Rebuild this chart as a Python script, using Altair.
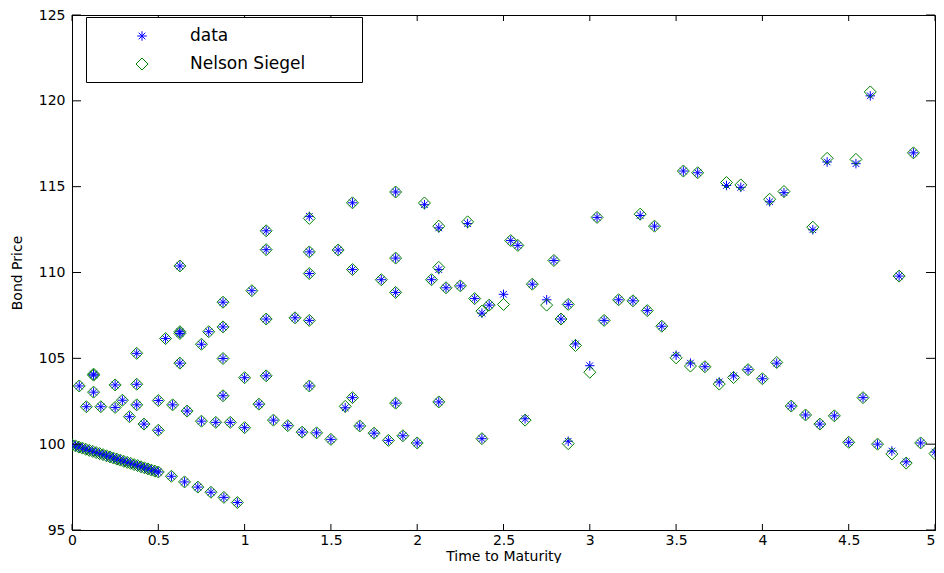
import altair as alt
import pandas as pd

# ---------------- data ----------------
t = [0.00, 0.02, 0.04, 0.06, 0.08, 0.10, 0.12, 0.14, 0.16, 0.18,
     0.20, 0.22, 0.24, 0.26, 0.28, 0.30, 0.32, 0.34, 0.36, 0.38,
     0.40, 0.42, 0.44, 0.46, 0.48,
     0.042, 0.083, 0.125, 0.125, 0.125, 0.167, 0.25, 0.25, 0.292, 0.333,
     0.375, 0.375, 0.375, 0.417, 0.5, 0.5, 0.5, 0.542, 0.576, 0.583,
     0.625, 0.625, 0.625, 0.625, 0.652, 0.667, 0.729, 0.75, 0.75, 0.792,
     0.805, 0.833, 0.875, 0.875, 0.875, 0.875, 0.880, 0.917, 0.958, 1.0,
     1.0, 1.042, 1.083, 1.125, 1.125, 1.125, 1.125, 1.167, 1.25, 1.292,
     1.333, 1.375, 1.375, 1.375, 1.375, 1.375, 1.417, 1.5, 1.542, 1.583,
     1.625, 1.625, 1.625, 1.667, 1.75, 1.792, 1.833, 1.875, 1.875, 1.875,
     1.875, 1.917, 2.0, 2.042, 2.083, 2.125, 2.125, 2.125, 2.167, 2.25,
     2.292, 2.333, 2.375, 2.375, 2.417, 2.5, 2.542, 2.583, 2.625, 2.667,
     2.75, 2.792, 2.833, 2.875, 2.875, 2.917, 3.0, 3.042, 3.083, 3.167,
     3.25, 3.292, 3.333, 3.375, 3.417, 3.5, 3.542, 3.583, 3.625, 3.667,
     3.75, 3.792, 3.833, 3.875, 3.917, 4.0, 4.042, 4.083, 4.125, 4.167,
     4.25, 4.292, 4.333, 4.375, 4.417, 4.5, 4.542, 4.583, 4.625, 4.667,
     4.75, 4.792, 4.833, 4.875, 4.917, 5.0]

price = [99.96, 99.90, 99.83, 99.77, 99.70, 99.64, 99.58, 99.51, 99.45, 99.39,
         99.32, 99.26, 99.19, 99.13, 99.07, 99.00, 98.94, 98.88, 98.81, 98.75,
         98.68, 98.62, 98.56, 98.49, 98.43,
         103.39, 102.18, 104.08, 104.02, 103.03, 102.18, 103.45, 102.14, 102.56, 101.60,
         105.29, 103.49, 102.29, 101.17, 98.38, 102.54, 100.81, 106.15, 98.13, 102.29,
         110.38, 106.55, 106.45, 104.72, 97.80, 101.93, 97.50, 105.82, 101.34, 106.55,
         97.20, 101.27, 108.27, 106.83, 104.99, 102.82, 96.90, 101.27, 96.60, 103.87,
         100.96, 108.94, 102.33, 112.43, 111.33, 107.29, 103.98, 101.40, 101.08, 107.36,
         100.70, 113.27, 111.20, 109.94, 107.21, 103.39, 100.66, 100.28, 111.31, 102.12,
         114.06, 110.17, 102.71, 101.06, 100.64, 109.58, 100.22, 114.69, 110.84, 108.84,
         102.39, 100.49, 100.07, 113.95, 109.58, 112.60, 110.17, 102.46, 109.11, 109.22,
         112.85, 108.48, 107.63, 100.32, 108.10, 108.73, 111.86, 111.58, 101.48, 109.32,
         108.41, 110.70, 107.29, 108.14, 100.17, 105.84, 104.57, 113.21, 107.21, 108.41,
         108.35, 113.32, 107.78, 112.70, 106.87, 105.18, 115.91, 104.72, 115.81, 104.51,
         103.62, 115.07, 103.98, 114.96, 104.34, 103.81, 114.12, 104.72, 114.65, 102.22,
         101.70, 112.49, 101.17, 116.44, 101.65, 100.11, 116.34, 102.71, 120.29, 100.00,
         99.60, 109.79, 98.97, 116.97, 100.07, 99.54]

fitted = [99.96, 99.90, 99.83, 99.77, 99.70, 99.64, 99.58, 99.51, 99.45, 99.39,
          99.32, 99.26, 99.19, 99.13, 99.07, 99.00, 98.94, 98.88, 98.81, 98.75,
          98.68, 98.62, 98.56, 98.49, 98.43,
          103.39, 102.18, 104.08, 104.02, 103.03, 102.18, 103.45, 102.14, 102.56, 101.60,
          105.29, 103.49, 102.29, 101.17, 98.38, 102.54, 100.81, 106.15, 98.13, 102.29,
          110.38, 106.55, 106.45, 104.72, 97.80, 101.93, 97.50, 105.82, 101.34, 106.55,
          97.20, 101.27, 108.27, 106.83, 104.99, 102.82, 96.90, 101.27, 96.60, 103.87,
          100.96, 108.94, 102.33, 112.43, 111.33, 107.29, 103.98, 101.40, 101.08, 107.36,
          100.70, 113.15, 111.20, 109.94, 107.21, 103.39, 100.66, 100.28, 111.31, 102.20,
          114.06, 110.17, 102.71, 101.06, 100.64, 109.58, 100.22, 114.69, 110.84, 108.84,
          102.39, 100.49, 100.07, 114.05, 109.58, 112.70, 110.30, 102.46, 109.11, 109.22,
          112.95, 108.48, 107.75, 100.32, 108.10, 108.14, 111.86, 111.58, 101.40, 109.32,
          108.10, 110.70, 107.29, 108.14, 100.03, 105.75, 104.19, 113.21, 107.21, 108.41,
          108.35, 113.40, 107.78, 112.70, 106.87, 105.03, 115.91, 104.55, 115.81, 104.51,
          103.50, 115.24, 103.88, 115.10, 104.34, 103.81, 114.27, 104.76, 114.72, 102.22,
          101.70, 112.64, 101.17, 116.65, 101.65, 100.11, 116.59, 102.71, 120.52, 100.00,
          99.43, 109.79, 98.90, 116.97, 100.07, 99.45]

series_names = ["data", "Nelson Siegel"]
series_colors = ["#0000ff", "#008000"]

x_ticks = [0, 0.5, 1, 1.5, 2, 2.5, 3, 3.5, 4, 4.5, 5]
y_ticks = [95, 100, 105, 110, 115, 120, 125]

# ---------------- chart ----------------
W, H = 863, 515
FONT = "DejaVu Sans"
ASTERISK = "M-1,0L1,0M0,-1L0,1M-0.7,-0.7L0.7,0.7M-0.7,0.7L0.7,-0.7"

df = pd.DataFrame({"t": t, "data": price, "Nelson Siegel": fitted})
xt = pd.DataFrame({"t": x_ticks})
yt = pd.DataFrame({"price": y_ticks})

xscale = alt.Scale(domain=[0, 5], nice=False, zero=False)
yscale = alt.Scale(domain=[95, 125], nice=False, zero=False)
color_scale = alt.Scale(domain=series_names, range=series_colors)
shape_scale = alt.Scale(domain=series_names, range=[ASTERISK, "diamond"])
size_scale = alt.Scale(domain=series_names, range=[90, 144])

x_axis = alt.Axis(values=x_ticks, format="~g", ticks=False, tickSize=0, grid=False,
                  labelPadding=3, labelFlush=False, labelOverlap=False,
                  labelAlign=alt.condition("datum.value >= 5", alt.value("right"),
                                           alt.value("center")),
                  titleX=W / 2, titleY=26, titleBaseline="middle", titleFontSize=14)
y_axis = alt.Axis(values=y_ticks, ticks=False, tickSize=0, grid=False,
                  labelPadding=7, labelFlush=False, labelOverlap=False,
                  titleX=-55, titleY=H / 2, titleBaseline="middle",
                  titleFontSize=14)

X = alt.X("t:Q", scale=xscale, title="Time to Maturity", axis=x_axis)
Y = alt.Y("price:Q", scale=yscale, title="Bond Price", axis=y_axis)

points = (
    alt.Chart(df)
    .transform_fold(series_names, as_=["series", "price"])
    .mark_point(filled=False, strokeWidth=1, opacity=1, clip=True)
    .encode(
        x=X,
        y=Y,
        color=alt.Color("series:N", scale=color_scale, legend=None),
        shape=alt.Shape("series:N", scale=shape_scale, legend=None),
        size=alt.Size("series:N", scale=size_scale, legend=None),
    )
)

tick_bottom = alt.Chart(xt).mark_rule(color="black", strokeWidth=1).encode(
    x=X, y=alt.value(H), y2=alt.value(H - 6))
tick_top = alt.Chart(xt).mark_rule(color="black", strokeWidth=1).encode(
    x=X, y=alt.value(0), y2=alt.value(6))
tick_left = alt.Chart(yt).mark_rule(color="black", strokeWidth=1).encode(
    y=Y, x=alt.value(0), x2=alt.value(9))
tick_right = alt.Chart(yt).mark_rule(color="black", strokeWidth=1).encode(
    y=Y, x=alt.value(W - 9), x2=alt.value(W))

# ---------------- legend (boxed, top-left, MATLAB style) ----------------
legend_box = alt.Chart(pd.DataFrame({"k": [0]})).mark_rect(
    fill="white", stroke="black", strokeWidth=1
).encode(x=alt.value(14.5), x2=alt.value(290.5), y=alt.value(2.5), y2=alt.value(67.5))

legend_rows = []
for name, ypix in zip(series_names, [21, 49]):
    ldf = pd.DataFrame({"series": [name]})
    sym = alt.Chart(ldf).mark_point(filled=False, strokeWidth=1, opacity=1).encode(
        x=alt.value(70), y=alt.value(ypix),
        color=alt.Color("series:N", scale=color_scale, legend=None),
        shape=alt.Shape("series:N", scale=shape_scale, legend=None),
        size=alt.Size("series:N", scale=size_scale, legend=None),
    )
    lab = alt.Chart(ldf).mark_text(
        align="left", baseline="middle", font=FONT, fontSize=17, color="black"
    ).encode(x=alt.value(118), y=alt.value(ypix), text="series:N")
    legend_rows += [sym, lab]

chart = (
    alt.layer(points, tick_bottom, tick_top, tick_left, tick_right,
              legend_box, *legend_rows)
    .properties(
        width=W, height=H,
        padding={"left": 64, "top": 7, "right": 1, "bottom": 33},
        autosize=alt.AutoSizeParams(type="none"),
        background="white",
    )
    .configure_view(stroke="black", strokeWidth=1)
    .configure_axis(
        grid=False, domainColor="black", domainWidth=1,
        labelFont=FONT, labelFontSize=14, labelColor="black",
        titleFont=FONT, titleFontSize=15, titleFontWeight="normal", titleColor="black",
    )
)

chart.save("out.html", embed_options={"renderer": "svg", "actions": False})
